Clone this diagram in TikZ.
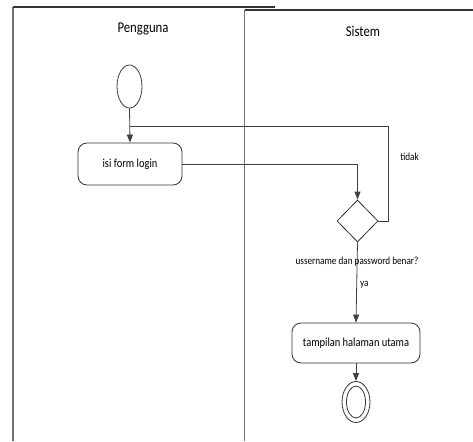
\documentclass[tikz,border=0pt]{standalone}
\usepackage{fontspec}
\setmainfont{Carlito}[FakeStretch=0.85]
\usetikzlibrary{shapes.geometric,arrows.meta}
\begin{document}
\begin{tikzpicture}[x=1pt,y=-1pt,
  lane/.style={draw=black!55,line width=1.3pt},
  lanetop/.style={draw=black!80,line width=1.1pt},
  flow/.style={draw=black!75,line width=0.8pt},
  arr/.style={flow,-{Triangle[length=8pt,width=6pt]}},
  activity/.style={draw=black!80,line width=0.8pt,rounded corners=9pt,
    inner sep=0pt,font=\fontsize{12.3}{14}\selectfont},
  lanetitle/.style={font=\fontsize{15}{18}\selectfont,inner sep=0pt},
  lbl/.style={font=\fontsize{10.8}{13}\selectfont,inner sep=0pt}]
  \useasboundingbox (0,0) rectangle (473,441);
  \fill[white] (0,0) rectangle (473,441);

  % swimlanes
  \draw[lane] (13,441) -- (13,7);
  \draw[lanetop] (13,7) -- (275,7);
  \draw[lane] (244.5,441) -- (244.5,10);
  \draw[lanetop] (244.5,10) -- (473,10);
  \node[lanetitle] (tPengguna) at (143,29) {Pengguna};
  \node[lanetitle] (tSistem) at (363,31) {Sistem};

  % activity nodes
  \node[ellipse,draw=black!75,line width=0.8pt,minimum width=25pt,minimum height=43pt,inner sep=0pt] (start) at (129.5,86.5) {};
  \node[activity,minimum width=104pt,minimum height=42pt] (login) at (130,164) {isi form login};
  \node[diamond,draw=black!80,line width=0.8pt,minimum width=41pt,minimum height=42pt,inner sep=0pt] (dec) at (357.5,221) {};
  \node[activity,minimum width=128pt,minimum height=40pt] (main) at (356,343) {tampilan halaman utama};
  \node[ellipse,draw=black!80,line width=0.8pt,minimum width=28pt,minimum height=41pt,inner sep=0pt] (end) at (356,402) {};
  \node[ellipse,draw=black!80,line width=0.8pt,minimum width=19pt,minimum height=32pt,inner sep=0pt] (endin) at (356,402) {};

  % flows
  \coordinate (loopA) at (388,221);
  \coordinate (loopB) at (388,126);
  \coordinate (loopC) at (129.5,126);
  \draw[arr] (start.south) -- (login.north);
  \draw[flow] (dec.east) -- (loopA) -- (loopB) -- (loopC);
  \draw[arr] (login.east) -| (dec.north);
  \draw[arr] (dec.south) -- (main.north);
  \draw[arr] (main.south) -- (end.north);

  % guard labels
  \node[lbl] (ltidak) at (409.5,157) {tidak};
  \node[lbl] (lcond) at (357,262) {ussername dan password benar?};
  \node[lbl,anchor=west] (lya) at (360,285) {ya};
\end{tikzpicture}
\end{document}
